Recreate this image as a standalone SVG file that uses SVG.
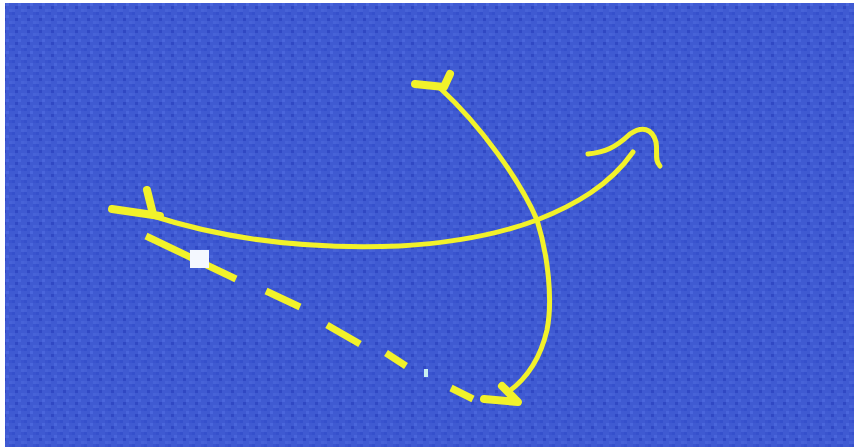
<svg xmlns="http://www.w3.org/2000/svg" width="854" height="447" viewBox="0 0 854 447">
<defs>
<style>
.y{fill:none;stroke:#f2f22a;stroke-linecap:round;stroke-linejoin:round}
.t{stroke-width:5}
.k{stroke-width:8}
.d{stroke-width:7;stroke-linecap:butt}
</style>
<pattern id="noise" width="12" height="12" patternUnits="userSpaceOnUse">
<rect width="12" height="12" fill="#3f5ad2"/>
<rect x="0" y="0" width="3" height="3" fill="#3550cc"/>
<rect x="6" y="3" width="3" height="3" fill="#4a66dc"/>
<rect x="3" y="6" width="3" height="3" fill="#3048c4"/>
<rect x="9" y="9" width="3" height="3" fill="#4763d8"/>
<rect x="9" y="0" width="3" height="3" fill="#3a54cf"/>
<rect x="0" y="9" width="3" height="3" fill="#4560d6"/>
</pattern>
</defs>
<rect width="854" height="447" fill="#ffffff"/>
<rect x="5" y="3" width="849" height="444" fill="url(#noise)"/>
<g id="curve-horizontal">
<path class="y t" d="M150,215 C220,238 300,250 400,246 C470,242 510,230 537,220 C575,205 610,185 633,152"/>
<path class="y k" d="M112,209 L160,216"/>
<path class="y k" d="M147,190 L153,214"/>
</g>
<g id="hook">
<path class="y t" d="M588,154 C605,152 615,148 630,134 C642,126 652,128 656,142 C658,152 654,160 660,166"/>
</g>
<g id="curve-vertical">
<path class="y t" d="M440,88 C480,125 520,180 537,220 C548,255 553,300 547,330 C540,360 525,380 508,392"/>
<path class="y k" d="M415,84 L444,87 L450,74"/>
<path class="y k" d="M484,399 L518,402 L502,386"/>
</g>
<g id="dashed">
<path class="y d" d="M146,236 L236,279"/>
<path class="y d" d="M266,291 L300,307"/>
<path class="y d" d="M327,325 L360,344"/>
<path class="y d" d="M386,353 L406,366"/>
<path class="y d" d="M451,388 L473,399"/>
<rect x="190" y="250" width="19" height="18" fill="#f4f8ff"/>
<rect x="424" y="369" width="4" height="8" fill="#c8f0f0"/>
</g>
</svg>
